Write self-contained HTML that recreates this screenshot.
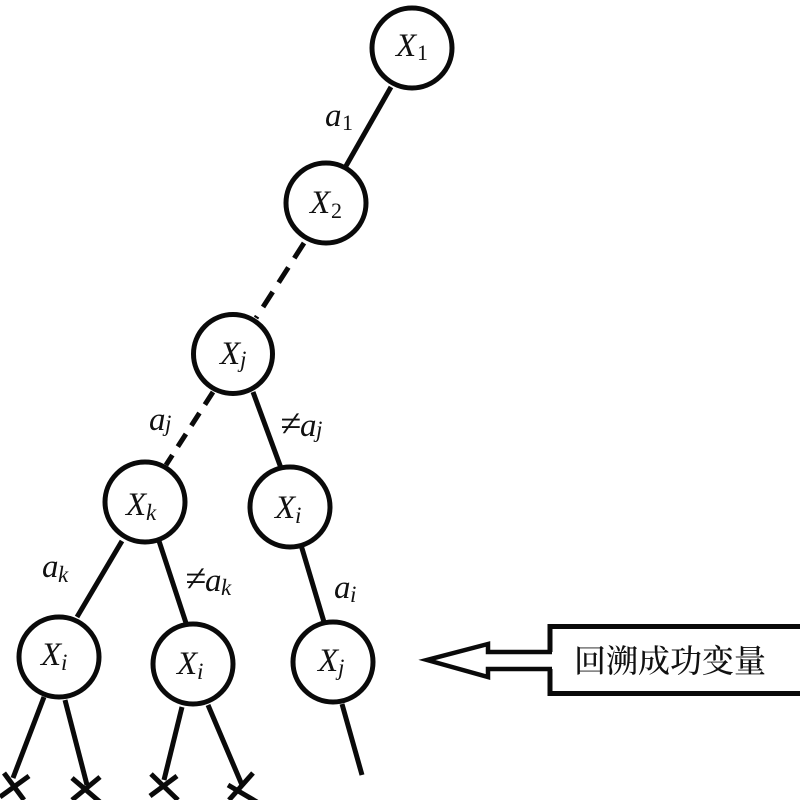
<!DOCTYPE html>
<html>
<head>
<meta charset="utf-8">
<style>
html,body{margin:0;padding:0;background:#fff;width:800px;height:800px;overflow:hidden}
svg{display:block}
text{font-family:"Liberation Serif","Noto Serif CJK SC",serif;fill:#111}
.m{font-style:italic;font-size:33px}
.s{font-style:italic;font-size:23px}
.n{font-style:normal;font-size:22px}
.l{font-style:italic;font-size:33px}
.ne{font-style:italic;font-size:38px}
</style>
</head>
<body>
<svg width="800" height="800" viewBox="0 0 800 800" xmlns="http://www.w3.org/2000/svg">
<g stroke="#0a0a0a" stroke-width="5" fill="none" stroke-linecap="butt">
<line x1="391" y1="87" x2="346" y2="166"/>
<line x1="304" y1="243" x2="256" y2="318" stroke-dasharray="18 11"/>
<line x1="213" y1="392" x2="166" y2="465" stroke-dasharray="15 10"/>
<line x1="253" y1="392" x2="281" y2="468"/>
<line x1="122" y1="541" x2="77" y2="617"/>
<line x1="159" y1="541" x2="186" y2="623"/>
<line x1="301" y1="545" x2="324" y2="622"/>
<line x1="44" y1="697" x2="13" y2="778"/>
<line x1="65" y1="700" x2="87" y2="785"/>
<line x1="182" y1="707" x2="164" y2="780"/>
<line x1="208" y1="705" x2="242" y2="785"/>
<line x1="342" y1="704" x2="362" y2="775"/>
<line x1="4" y1="773" x2="24" y2="800"/>
<line x1="29" y1="776" x2="0" y2="797"/>
<line x1="72" y1="778" x2="100" y2="802"/>
<line x1="100" y1="777" x2="72" y2="800"/>
<line x1="151" y1="774" x2="178" y2="800"/>
<line x1="177" y1="776" x2="150" y2="796"/>
<line x1="228" y1="785" x2="257" y2="802"/>
<line x1="253" y1="773" x2="229" y2="800"/>
</g>
<g stroke="#0a0a0a" stroke-width="5" fill="#fff">
<circle cx="412" cy="48" r="40"/>
<circle cx="326" cy="203" r="40"/>
<circle cx="233" cy="354" r="39.500"/>
<circle cx="145" cy="502" r="40"/>
<circle cx="290" cy="507" r="40"/>
<circle cx="59" cy="657" r="40"/>
<circle cx="193" cy="664" r="40"/>
<circle cx="333" cy="662" r="40"/>
</g>
<text x="396" y="56" class="m">X</text><text x="417" y="60" class="n">1</text>
<text x="310" y="213" class="m">X</text><text x="331" y="218" class="n">2</text>
<text x="220" y="364" class="m">X</text><text x="240" y="367" class="s">j</text>
<text x="126" y="515" class="m">X</text><text x="146" y="520" class="s">k</text>
<text x="275" y="518" class="m">X</text><text x="295" y="523" class="s">i</text>
<text x="41" y="665" class="m">X</text><text x="61" y="670" class="s">i</text>
<text x="177" y="674" class="m">X</text><text x="197" y="679" class="s">i</text>
<text x="318" y="671" class="m">X</text><text x="338" y="675" class="s">j</text>
<text x="325" y="126" class="l">a</text><text x="342" y="130" class="n">1</text>
<text x="149" y="430" class="l">a</text><text x="165" y="431" class="s">j</text>
<text x="280" y="436" class="ne">≠</text><text x="300" y="436" class="l">a</text><text x="316" y="437" class="s">j</text>
<text x="42" y="577" class="l">a</text><text x="58" y="582" class="s">k</text>
<text x="185" y="591" class="ne">≠</text><text x="205" y="591" class="l">a</text><text x="221" y="595" class="s">k</text>
<text x="334" y="598" class="l">a</text><text x="350" y="602" class="s">i</text>
<path d="M550 626.500H800M550 693.500H800" stroke="#0a0a0a" stroke-width="5" fill="none"/>
<path d="M550 624V652M550 669V696" stroke="#0a0a0a" stroke-width="5" fill="none"/>
<path d="M552 652H488V644L427 660L488 677V669H552" stroke="#0a0a0a" stroke-width="4.500" fill="none" stroke-linejoin="miter"/>
<text x="574" y="672" style="font-size:32px;font-weight:500;font-family:'Noto Serif CJK SC','Liberation Serif',serif">回溯成功变量</text>
</svg>
</body>
</html>
